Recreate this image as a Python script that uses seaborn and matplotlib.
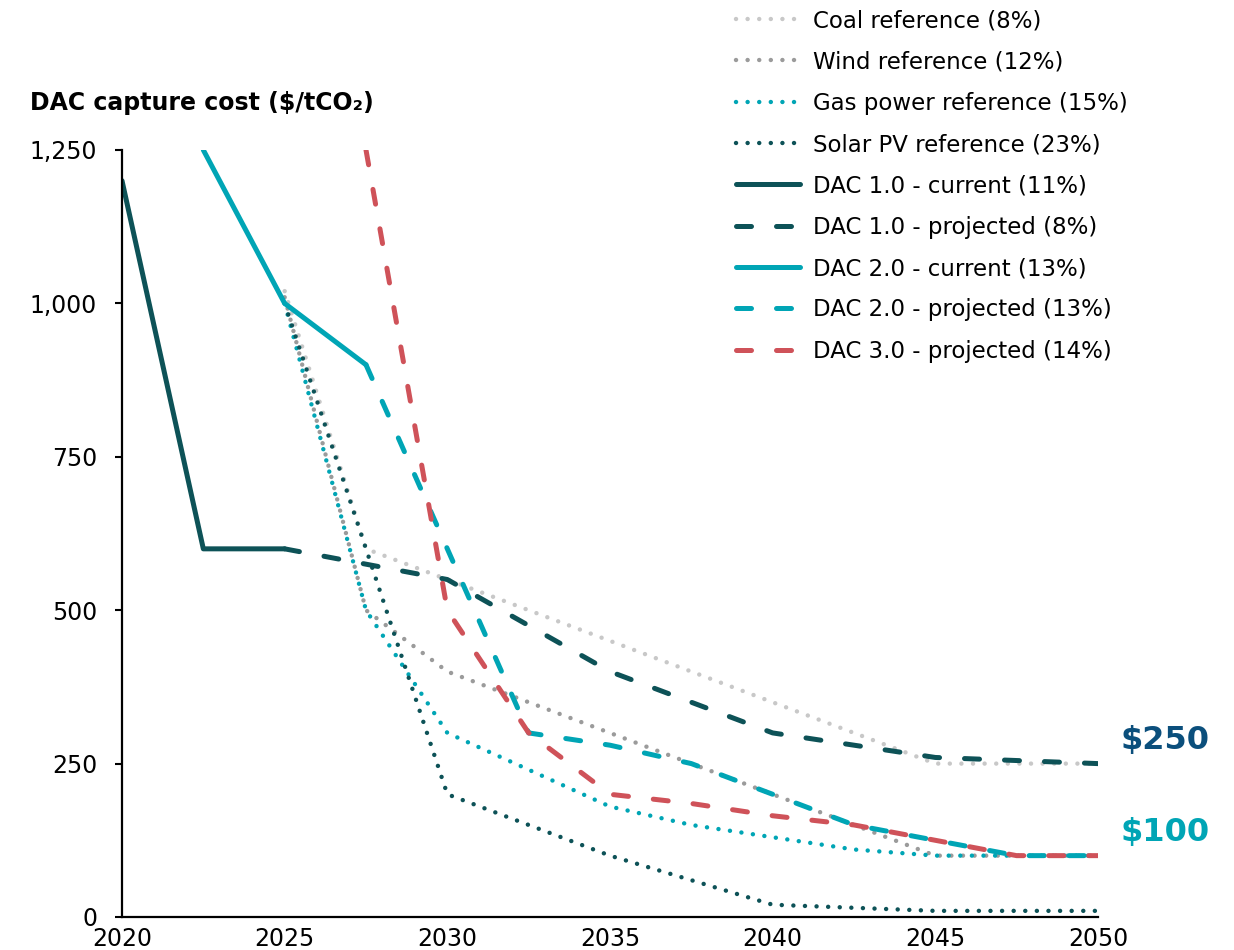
import numpy as np
import pandas as pd
import seaborn as sns
import matplotlib.pyplot as plt

# Data (2.5-year steps)
years = [2020, 2022.5, 2025, 2027.5, 2030, 2032.5, 2035, 2037.5, 2040, 2042.5, 2045, 2047.5, 2050]
nan = np.nan
coal = [nan, nan, 1020, 600, 550, 500, 450, 400, 350, 300, 250, 250, 250]
wind = [nan, nan, 1010, 500, 400, 350, 300, 250, 200, 150, 100, 100, 100]
gas = [nan, nan, 1000, 500, 300, 240, 180, 150, 130, 110, 100, 100, 100]
solar = [nan, nan, 1000, 600, 200, 150, 100, 60, 20, 15, 10, 10, 10]
dac1_current = [1200, 600, 600, nan, nan, nan, nan, nan, nan, nan, nan, nan, nan]
dac1_projected = [nan, nan, 600, 575, 550, 475, 400, 350, 300, 280, 260, 255, 250]
dac2_current = [nan, 1250, 1000, 900, nan, nan, nan, nan, nan, nan, nan, nan, nan]
dac2_projected = [nan, nan, nan, 900, 600, 300, 280, 250, 200, 150, 125, 100, 100]
dac3_projected = [nan, nan, nan, 1250, 500, 300, 200, 185, 165, 150, 125, 100, 100]

labels = ['Coal reference (8%)', 'Wind reference (12%)', 'Gas power reference (15%)',
          'Solar PV reference (23%)', 'DAC 1.0 - current (11%)', 'DAC 1.0 - projected (8%)',
          'DAC 2.0 - current (13%)', 'DAC 2.0 - projected (13%)', 'DAC 3.0 - projected (14%)']
series = [coal, wind, gas, solar, dac1_current, dac1_projected, dac2_current, dac2_projected, dac3_projected]

y_ticks = [0, 250, 500, 750, 1000, 1250]
x_ticks = [2020, 2025, 2030, 2035, 2040, 2045, 2050]
end_labels = ['$250', '$100']
end_values = [288, 137]

# colours
DARK = '#0D5257'
TEAL = '#00A5B5'
RED = '#CF5259'
LGRAY = '#C8C8C8'
MGRAY = '#9B9B9B'
colors = [LGRAY, MGRAY, TEAL, DARK, DARK, DARK, TEAL, TEAL, RED]
DOT = (0, (0.01, 2.6))
DASH = (0, (3.0, 5.0))
styles = [DOT, DOT, DOT, DOT, '-', DASH, '-', DASH, DASH]
widths = [3.2, 3.2, 3.2, 3.2, 3.6, 3.6, 3.6, 3.6, 3.6]

df = pd.concat([pd.DataFrame({'year': years, 'cost': v, 'series': lab})
                for lab, v in zip(labels, series)]).dropna()

sns.set_style('white')
plt.rcParams['font.family'] = ['DejaVu Sans']
plt.rcParams['text.color'] = 'black'

fig = plt.figure(figsize=(12.34, 9.5), dpi=100)
ax = fig.add_axes([122 / 1234, 33 / 950, 976 / 1234, 767 / 950])

for lab, col, ls, lw in zip(labels, colors, styles, widths):
    sub = df[df['series'] == lab]
    sns.lineplot(data=sub, x='year', y='cost', ax=ax, color=col, linestyle=ls,
                 linewidth=lw, label=lab, estimator=None, sort=False)

for line in ax.get_lines():
    line.set_dash_capstyle('round')
    line.set_solid_capstyle('round')
    line.set_solid_joinstyle('round')

ax.set_xlim(2020, 2050)
ax.set_ylim(0, 1250)
ax.set_xticks(x_ticks)
ax.set_yticks(y_ticks)
ax.set_yticklabels([f'{v:,}' for v in y_ticks])
ax.set_xlabel('')
ax.set_ylabel('')
for s in ['top', 'right']:
    ax.spines[s].set_visible(False)
for s in ['left', 'bottom']:
    ax.spines[s].set_color('black')
    ax.spines[s].set_linewidth(1.6)
ax.tick_params(axis='y', left=True, length=5, width=1.5, pad=13, labelsize=17,
               colors='black')
ax.tick_params(axis='x', bottom=False, length=0, pad=7, labelsize=17, colors='black')

# end labels
ax.text(2050.7, end_values[0], end_labels[0], color='#0B4F7C', fontsize=23,
        fontweight='bold', va='center', ha='left', clip_on=False)
ax.text(2050.7, end_values[1], end_labels[1], color=TEAL, fontsize=23,
        fontweight='bold', va='center', ha='left', clip_on=False)

fig.text(30 / 1234, 1 - 103 / 950, 'DAC capture cost ($/tCO₂)', fontsize=17,
         fontweight='bold', va='center', ha='left', color='black')

leg = ax.legend(loc='upper left', bbox_to_anchor=(736 / 1234, 1 - 9 / 950),
                bbox_transform=fig.transFigure, frameon=False, fontsize=16.5,
                handlelength=2.8, handletextpad=0.55, labelspacing=0.80,
                borderaxespad=0, borderpad=0)
for t in leg.get_texts():
    t.set_color('black')
for h in leg.get_lines():
    h.set_dash_capstyle('round')
    h.set_solid_capstyle('round')

fig.savefig('out.png', dpi=100)
